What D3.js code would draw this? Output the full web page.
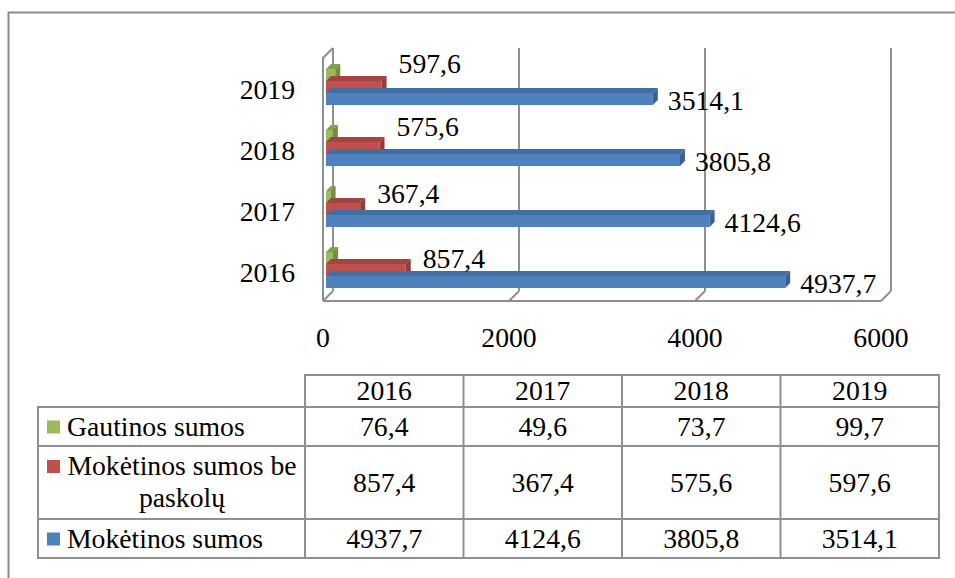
<!DOCTYPE html>
<html>
<head>
<meta charset="utf-8">
<script src="https://cdn.jsdelivr.net/npm/d3@7"></script>
<style>
  body { margin: 0; background: #fff; }
</style>
</head>
<body>
<script>
var width = 955,
    height = 578

// data
var years = ["2016", "2017", "2018", "2019"]
var seriesNames = ["Gautinos sumos", "Mokėtinos sumos be paskolų", "Mokėtinos sumos"]
var gautinos = [76.4, 49.6, 73.7, 99.7]
var moketinosBe = [857.4, 367.4, 575.6, 597.6]
var moketinos = [4937.7, 4124.6, 3805.8, 3514.1]
var ticks = [0, 2000, 4000, 6000]
var colors = ["#9BBB59", "#C0504D", "#4F81BD"]

var series = [
  {key: "g", name: seriesNames[0], values: gautinos, color: colors[0], label: false},
  {key: "r", name: seriesNames[1], values: moketinosBe, color: colors[1], label: true},
  {key: "b", name: seriesNames[2], values: moketinos, color: colors[2], label: true}
]

var fmt = function(v) { return d3.format(".1f")(v).replace(".", ","); }
var fontSize = 27.7
// perspective nudge of the red labels (per year, bottom to top)
var redLabelDy = [4, 0, -6, -8]

var svg = d3.select("body").append("svg")
    .attr("width", width)
    .attr("height", height)
    .attr("font-family", "'Liberation Serif', 'DejaVu Serif', serif")
    .attr("font-size", fontSize);

// outer frame (only left and top visible)
svg.append("path")
    .attr("d", "M8.5,578 V12.5 H955")
    .attr("fill", "none")
    .attr("stroke", "#8a8a8a")
    .attr("stroke-width", 2);

// scales
var x = d3.scaleLinear().domain([0, 6000]).range([323, 881]);
var y = d3.scaleBand().domain(years).range([301, 57]);
var ySub = d3.scaleBand().domain(series.map(function(s) { return s.key; })).range([12, 48]);

var depth = 10,  // floor / wall depth
    bShift = 3,  // bars sit a bit behind the front plane
    bDepth = 5   // bar thickness in depth

var gridColor = "#8f8f8f"
var floorY = 301, wallTop = 58

var grid = svg.append("g")
    .attr("fill", "none")
    .attr("stroke", gridColor)
    .attr("stroke-width", 2);

// back wall gridlines
grid.selectAll(".vgrid").data(ticks)
  .enter().append("line")
    .attr("class", "vgrid")
    .attr("x1", function(d) { return x(d) + depth; })
    .attr("x2", function(d) { return x(d) + depth; })
    .attr("y1", wallTop - depth)
    .attr("y2", floorY - depth);

// floor diagonals
grid.selectAll(".diag").data(ticks)
  .enter().append("line")
    .attr("class", "diag")
    .attr("x1", function(d) { return x(d); })
    .attr("y1", floorY)
    .attr("x2", function(d) { return x(d) + depth; })
    .attr("y2", floorY - depth);

// floor front edge
grid.append("line")
    .attr("x1", x(0)).attr("x2", x(6000))
    .attr("y1", floorY).attr("y2", floorY);

// left wall front edge + top
grid.append("path")
    .attr("d", "M" + x(0) + "," + floorY + " V" + wallTop + " L" + (x(0) + depth) + "," + (wallTop - depth));

// bars
var bars = svg.append("g");
years.forEach(function(yr, i) {
  series.forEach(function(s) {
    var v = s.values[i]
    var x0 = x(0) + bShift, x1 = x(v) + bShift
    var yt = y(yr) + ySub(s.key), yb = yt + ySub.bandwidth()
    var c = d3.color(s.color)
    // top face
    bars.append("path")
        .attr("d", "M" + x0 + "," + yt + " L" + (x0 + bDepth) + "," + (yt - bDepth) +
              " L" + (x1 + bDepth) + "," + (yt - bDepth) + " L" + x1 + "," + yt + "Z")
        .attr("fill", c.darker(0.45));
    // front face
    bars.append("rect")
        .attr("x", x0).attr("y", yt)
        .attr("width", x1 - x0).attr("height", yb - yt)
        .attr("fill", s.color);
    // side face
    bars.append("path")
        .attr("d", "M" + x1 + "," + yt + " L" + (x1 + bDepth) + "," + (yt - bDepth) +
              " L" + (x1 + bDepth) + "," + (yb - bDepth) + " L" + x1 + "," + yb + "Z")
        .attr("fill", c.darker(0.8));
  });
});

// data labels
var labels = svg.append("g");
years.forEach(function(yr, i) {
  series.forEach(function(s) {
    if (!s.label) return;
    var yt = y(yr) + ySub(s.key), yb = yt + ySub.bandwidth()
    labels.append("text")
        .attr("x", x(s.values[i]) + bShift + (s.key == "r" ? 17 : 15))
        .attr("y", s.key == "r" ? yt + redLabelDy[i] : yb + 5)
        .text(fmt(s.values[i]));
  });
});

// year labels
svg.append("g").selectAll("text").data(years)
  .enter().append("text")
    .attr("x", 295)
    .attr("y", function(d) { return y(d) + 42; })
    .attr("text-anchor", "end")
    .text(function(d) { return d; });

// x tick labels
svg.append("g").selectAll("text").data(ticks)
  .enter().append("text")
    .attr("x", function(d) { return x(d); })
    .attr("y", 347)
    .attr("text-anchor", "middle")
    .text(function(d) { return d; });

// data table
var col = d3.scaleBand().domain(years).range([305, 939]);
var tableLeft = 38
var rowTops = [407, 446, 519]   // row boundaries for the three series
var rowBottoms = [446, 519, 558]
var tableRows = series.slice() // green, red, blue (top to bottom)

var tbl = svg.append("g");
var lineStyle = function(sel) {
  return sel.attr("stroke", gridColor).attr("stroke-width", 2).attr("fill", "none");
}

// header cells
tbl.append("rect").call(lineStyle)
    .attr("x", col.range()[0]).attr("y", 375)
    .attr("width", col.range()[1] - col.range()[0]).attr("height", 407 - 375);
tbl.selectAll(".hdr").data(years)
  .enter().append("text")
    .attr("class", "hdr")
    .attr("x", function(d) { return col(d) + col.bandwidth() / 2; })
    .attr("y", 400)
    .attr("text-anchor", "middle")
    .text(function(d) { return d; });

// body
tbl.append("rect").call(lineStyle)
    .attr("x", tableLeft).attr("y", 407)
    .attr("width", 939 - tableLeft).attr("height", 558 - 407);
rowTops.slice(1).forEach(function(t) {
  tbl.append("line").call(lineStyle)
      .attr("x1", tableLeft).attr("x2", 939).attr("y1", t).attr("y2", t);
});
years.forEach(function(yr) {
  tbl.append("line").call(lineStyle)
      .attr("x1", col(yr)).attr("x2", col(yr)).attr("y1", col(yr) == 305 ? 407 : 375).attr("y2", 558);
});

tableRows.forEach(function(s, r) {
  var mid = (rowTops[r] + rowBottoms[r]) / 2
  var base = mid + 9
  var lines = s.key == "r" ? ["Mokėtinos sumos be", "paskolų"] : [s.name]
  var firstBase = lines.length > 1 ? 475 : base
  tbl.append("rect")
      .attr("x", 47).attr("y", firstBase - 15)
      .attr("width", 13).attr("height", 13)
      .attr("fill", s.color);
  lines.forEach(function(l, k) {
    tbl.append("text")
        .attr("x", lines.length > 1 ? 182 : 67)
        .attr("y", firstBase + k * 32)
        .attr("text-anchor", lines.length > 1 ? "middle" : "start")
        .text(l);
  });
  years.forEach(function(yr, i) {
    tbl.append("text")
        .attr("x", col(yr) + col.bandwidth() / 2)
        .attr("y", base)
        .attr("text-anchor", "middle")
        .text(fmt(s.values[i]));
  });
});
</script>
</body>
</html>
